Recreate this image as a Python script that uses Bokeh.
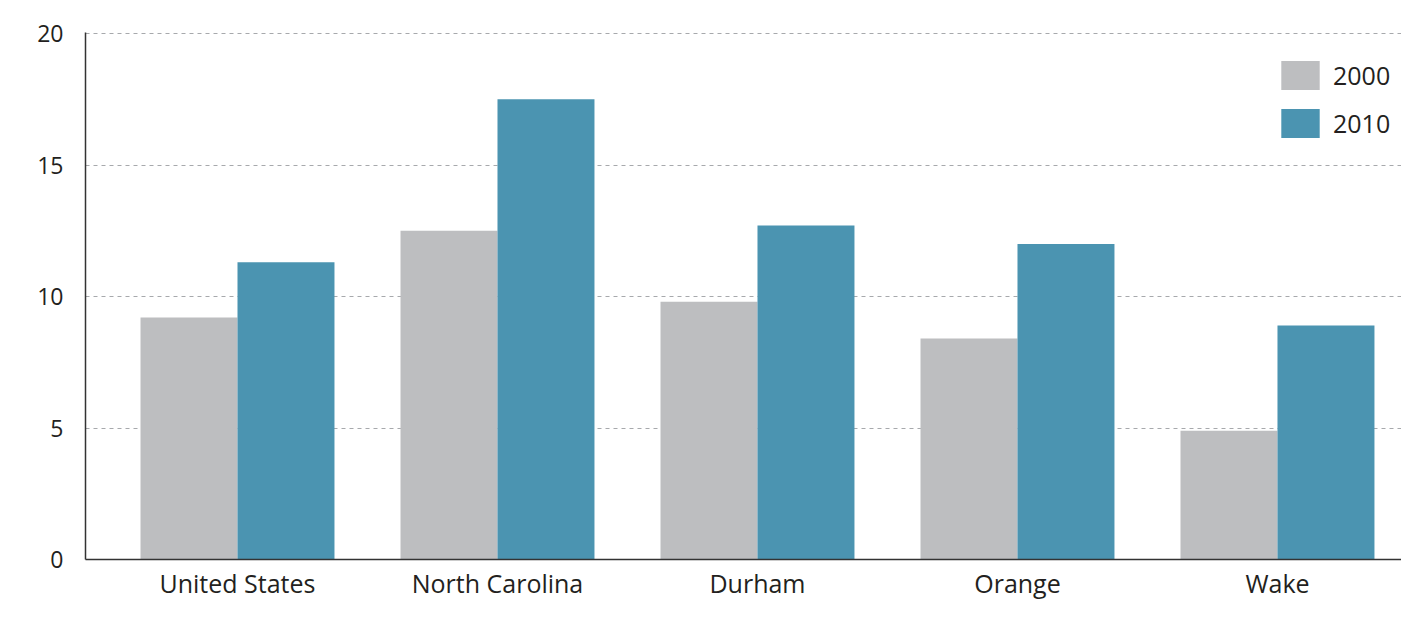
from bokeh.plotting import figure
from bokeh.models import FixedTicker, Range1d, Legend, LegendItem
from bokeh.embed import file_html
from bokeh.resources import INLINE

categories = ["United States", "North Carolina", "Durham", "Orange", "Wake"]
values_2000 = [9.2, 12.5, 9.8, 8.4, 4.9]
values_2010 = [11.3, 17.5, 12.7, 12.0, 8.9]
y_ticks = [0, 5, 10, 15, 20]

FONT = "Open Sans"
TXT = "#231F20"
GRAY = "#BDBEC0"
BLUE = "#4B94B1"

idx = list(range(len(categories)))
bw = 0.373
x2000 = [i - bw / 2 for i in idx]
x2010 = [i + bw / 2 for i in idx]

p = figure(width=1401, height=603, output_backend="svg", toolbar_location=None,
           x_range=Range1d(-0.5846, 4.477), y_range=Range1d(0, 20.04),
           min_border_left=85, min_border_right=0, min_border_top=32, min_border_bottom=44)
p.outline_line_color = None

r1 = p.vbar(x=x2000, top=values_2000, width=bw, bottom=0, fill_color=GRAY, line_color=None)
r2 = p.vbar(x=x2010, top=values_2010, width=bw, bottom=0, fill_color=BLUE, line_color=None)

p.xgrid.grid_line_color = None
p.ygrid.grid_line_color = "#A7A9AC"
p.ygrid.grid_line_dash = "4 4"
p.ygrid.grid_line_width = 1

p.yaxis.ticker = FixedTicker(ticks=y_ticks)
p.xaxis.ticker = FixedTicker(ticks=idx)
p.xaxis.major_label_overrides = {i: c for i, c in zip(idx, categories)}

for ax in (p.xaxis, p.yaxis):
    ax.major_tick_line_color = None
    ax.minor_tick_line_color = None
    ax.major_tick_out = 0
    ax.major_tick_in = 0
    ax.minor_tick_out = 0
    ax.axis_line_color = "#333333"
    ax.axis_line_width = 1.5
    ax.major_label_text_font = FONT
    ax.major_label_text_color = TXT

p.yaxis.major_label_text_font_size = "23px"
p.yaxis.major_label_standoff = 22
p.xaxis.major_label_text_font_size = "25px"
p.xaxis.major_label_standoff = 6

legend = Legend(items=[LegendItem(label="2000", renderers=[r1]),
                       LegendItem(label="2010", renderers=[r2])],
                location=(1191, 418))
legend.border_line_color = None
legend.background_fill_alpha = 0
legend.padding = 0
legend.margin = 0
legend.glyph_width = 48
legend.glyph_height = 36
legend.label_height = 36
legend.spacing = 12
legend.label_standoff = 9
legend.label_text_font = FONT
legend.label_text_font_size = "25px"
legend.label_text_color = TXT
p.add_layout(legend)

open("out.html", "w").write(file_html(p, INLINE))
